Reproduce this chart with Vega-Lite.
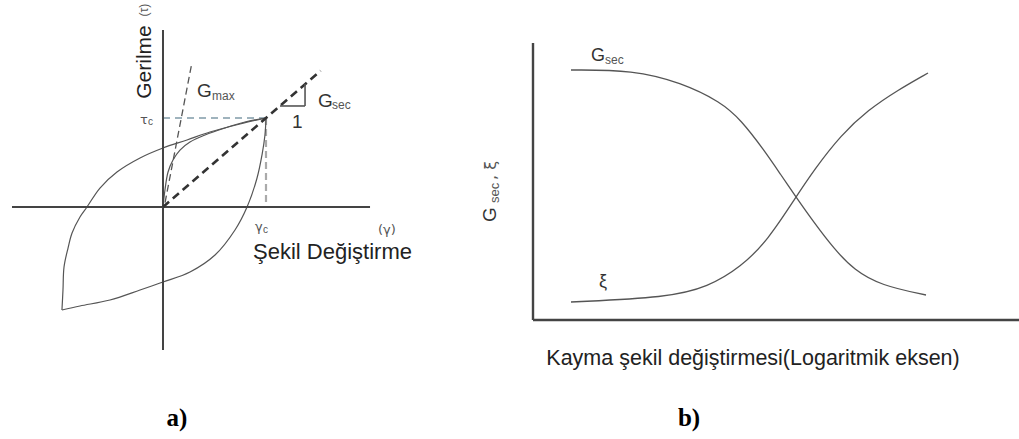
{
  "$schema": "https://vega.github.io/schema/vega-lite/v6.json",
  "padding": 0,
  "spacing": 10,
  "background": "white",
  "config": {"view": {"stroke": null}},
  "datasets": {
    "segA": [
      {"part": "axis", "g1": -1.466, "t1": 0, "g2": 2.01, "t2": 0},
      {"part": "axis", "g1": 0, "t1": 1.989, "g2": 0, "t2": -1.607},
      {"part": "tauc", "g1": 0, "t1": 1, "g2": 1, "t2": 1},
      {"part": "gammac", "g1": 1, "t1": 1, "g2": 1, "t2": 0},
      {"part": "gsec", "g1": 0, "t1": 0, "g2": 1.53, "t2": 1.53},
      {"part": "gmax", "g1": 0.02, "t1": 0.05, "g2": 0.282, "t2": 1.629},
      {"part": "tri", "g1": 1.136, "t1": 1.135, "g2": 1.379, "t2": 1.135},
      {"part": "tri", "g1": 1.379, "t1": 1.135, "g2": 1.379, "t2": 1.382}
    ],
    "loopA": [
      {"curve": "backbone", "seq": 1, "g": 0, "t": 0},
      {"curve": "backbone", "seq": 2, "g": 0.019, "t": 0.191},
      {"curve": "backbone", "seq": 3, "g": 0.049, "t": 0.393},
      {"curve": "backbone", "seq": 4, "g": 0.097, "t": 0.528},
      {"curve": "backbone", "seq": 5, "g": 0.165, "t": 0.64},
      {"curve": "backbone", "seq": 6, "g": 0.262, "t": 0.73},
      {"curve": "backbone", "seq": 7, "g": 0.408, "t": 0.809},
      {"curve": "backbone", "seq": 8, "g": 0.602, "t": 0.888},
      {"curve": "backbone", "seq": 9, "g": 0.796, "t": 0.955},
      {"curve": "backbone", "seq": 10, "g": 1, "t": 1},
      {"curve": "load", "seq": 1, "g": -0.981, "t": -1.157},
      {"curve": "load", "seq": 2, "g": -0.971, "t": -0.933},
      {"curve": "load", "seq": 3, "g": -0.961, "t": -0.674},
      {"curve": "load", "seq": 4, "g": -0.922, "t": -0.461},
      {"curve": "load", "seq": 5, "g": -0.883, "t": -0.292},
      {"curve": "load", "seq": 6, "g": -0.806, "t": -0.112},
      {"curve": "load", "seq": 7, "g": -0.738, "t": 0},
      {"curve": "load", "seq": 8, "g": -0.612, "t": 0.213},
      {"curve": "load", "seq": 9, "g": -0.447, "t": 0.393},
      {"curve": "load", "seq": 10, "g": -0.223, "t": 0.551},
      {"curve": "load", "seq": 11, "g": 0, "t": 0.663},
      {"curve": "load", "seq": 12, "g": 0.233, "t": 0.753},
      {"curve": "load", "seq": 13, "g": 0.456, "t": 0.843},
      {"curve": "load", "seq": 14, "g": 0.748, "t": 0.933},
      {"curve": "load", "seq": 15, "g": 1, "t": 1},
      {"curve": "unload", "seq": 1, "g": 1, "t": 1},
      {"curve": "unload", "seq": 2, "g": 0.99, "t": 0.809},
      {"curve": "unload", "seq": 3, "g": 0.961, "t": 0.584},
      {"curve": "unload", "seq": 4, "g": 0.913, "t": 0.326},
      {"curve": "unload", "seq": 5, "g": 0.816, "t": 0},
      {"curve": "unload", "seq": 6, "g": 0.699, "t": -0.258},
      {"curve": "unload", "seq": 7, "g": 0.505, "t": -0.539},
      {"curve": "unload", "seq": 8, "g": 0.262, "t": -0.73},
      {"curve": "unload", "seq": 9, "g": 0, "t": -0.843},
      {"curve": "unload", "seq": 10, "g": -0.223, "t": -0.933},
      {"curve": "unload", "seq": 11, "g": -0.515, "t": -1.045},
      {"curve": "unload", "seq": 12, "g": -0.806, "t": -1.112},
      {"curve": "unload", "seq": 13, "g": -0.981, "t": -1.157}
    ],
    "textA": [
      {"role": "rot", "label": "Gerilme", "g": -0.175, "t": 1.629},
      {"role": "rotsmall", "label": "(τ)", "g": -0.184, "t": 2.213},
      {"role": "big", "label": "G", "g": 0.33, "t": 1.236},
      {"role": "sub", "label": "max", "g": 0.476, "t": 1.202},
      {"role": "big", "label": "G", "g": 1.505, "t": 1.124},
      {"role": "sub", "label": "sec", "g": 1.641, "t": 1.101},
      {"role": "big", "label": "1", "g": 1.252, "t": 0.888},
      {"role": "greek", "label": "τ", "g": -0.223, "t": 0.933},
      {"role": "subsm", "label": "c", "g": -0.146, "t": 0.921},
      {"role": "greek", "label": "γ", "g": 0.893, "t": -0.27},
      {"role": "subsm", "label": "c", "g": 0.971, "t": -0.292},
      {"role": "greek", "label": "(γ)", "g": 2.087, "t": -0.303},
      {"role": "title", "label": "Şekil Değiştirme", "g": 0.874, "t": -0.584},
      {"role": "panel", "label": "a)", "g": 0.136, "t": -2.461}
    ],
    "segB": [
      {"x1": -4, "y1": 0, "x2": -4, "y2": 1.108},
      {"x1": -4, "y1": 0, "x2": 0.87, "y2": 0}
    ],
    "curvesB": [
      {"curve": "Gsec", "x": -3.62, "y": 1.0},
      {"curve": "Gsec", "x": -3.0, "y": 1.0},
      {"curve": "Gsec", "x": -2.52, "y": 0.95},
      {"curve": "Gsec", "x": -2.12, "y": 0.872},
      {"curve": "Gsec", "x": -1.92, "y": 0.8},
      {"curve": "Gsec", "x": -1.69, "y": 0.68},
      {"curve": "Gsec", "x": -1.52, "y": 0.58},
      {"curve": "Gsec", "x": -1.37, "y": 0.492},
      {"curve": "Gsec", "x": -1.19, "y": 0.39},
      {"curve": "Gsec", "x": -0.99, "y": 0.285},
      {"curve": "Gsec", "x": -0.79, "y": 0.2},
      {"curve": "Gsec", "x": -0.52, "y": 0.138},
      {"curve": "Gsec", "x": -0.07, "y": 0.1},
      {"curve": "xi", "x": -3.62, "y": 0.072},
      {"curve": "xi", "x": -2.65, "y": 0.09},
      {"curve": "xi", "x": -2.25, "y": 0.132},
      {"curve": "xi", "x": -1.92, "y": 0.212},
      {"curve": "xi", "x": -1.65, "y": 0.32},
      {"curve": "xi", "x": -1.37, "y": 0.492},
      {"curve": "xi", "x": -1.19, "y": 0.6},
      {"curve": "xi", "x": -0.92, "y": 0.74},
      {"curve": "xi", "x": -0.65, "y": 0.84},
      {"curve": "xi", "x": -0.35, "y": 0.92},
      {"curve": "xi", "x": -0.05, "y": 0.988}
    ],
    "textB": [
      {"role": "big", "label": "G", "x": -3.42, "y": 1.036},
      {"role": "sub", "label": "sec", "x": -3.28, "y": 1.024},
      {"role": "big", "label": "ξ", "x": -3.34, "y": 0.132},
      {"role": "rotbig", "label": "G", "x": -4.37, "y": 0.392},
      {"role": "rotsub", "label": "sec", "x": -4.34, "y": 0.468},
      {"role": "rotxi", "label": ", ξ", "x": -4.37, "y": 0.56},
      {"role": "xtitle", "label": "Kayma şekil değiştirmesi(Logaritmik eksen)", "x": -1.8, "y": -0.18},
      {"role": "panel", "label": "b)", "x": -2.44, "y": -0.424}
    ]
  },
  "hconcat": [
    {
      "width": 470,
      "height": 439,
      "layer": [
        {
          "data": {"name": "segA"},
          "transform": [{"filter": "datum.part === 'tauc'"}],
          "mark": {"type": "rule", "color": "#9fb3bd", "strokeWidth": 2, "strokeDash": [7, 5]},
          "encoding": {
            "x": {"field": "g1", "type": "quantitative", "axis": null, "scale": {"domain": [-1.5825, 2.9806], "nice": false, "zero": false}},
            "y": {"field": "t1", "type": "quantitative", "axis": null, "scale": {"domain": [-2.6067, 2.3258], "nice": false, "zero": false}},
            "x2": {"field": "g2"},
            "y2": {"field": "t2"}
          }
        },
        {
          "data": {"name": "segA"},
          "transform": [{"filter": "datum.part === 'gammac'"}],
          "mark": {"type": "rule", "color": "#aaaaaa", "strokeWidth": 2.2, "strokeDash": [7, 4]},
          "encoding": {
            "x": {"field": "g1", "type": "quantitative"},
            "y": {"field": "t1", "type": "quantitative"},
            "x2": {"field": "g2"},
            "y2": {"field": "t2"}
          }
        },
        {
          "data": {"name": "loopA"},
          "mark": {"type": "line", "color": "#555555", "strokeWidth": 1.2, "interpolate": "catmull-rom"},
          "encoding": {
            "x": {"field": "g", "type": "quantitative"},
            "y": {"field": "t", "type": "quantitative"},
            "detail": {"field": "curve"},
            "order": {"field": "seq", "type": "quantitative"}
          }
        },
        {
          "data": {"name": "segA"},
          "transform": [{"filter": "datum.part === 'axis'"}],
          "mark": {"type": "rule", "color": "#444444", "strokeWidth": 2},
          "encoding": {
            "x": {"field": "g1", "type": "quantitative"},
            "y": {"field": "t1", "type": "quantitative"},
            "x2": {"field": "g2"},
            "y2": {"field": "t2"}
          }
        },
        {
          "data": {"name": "segA"},
          "transform": [{"filter": "datum.part === 'gsec'"}],
          "mark": {"type": "rule", "color": "#333333", "strokeWidth": 2.6, "strokeDash": [8, 5]},
          "encoding": {
            "x": {"field": "g1", "type": "quantitative"},
            "y": {"field": "t1", "type": "quantitative"},
            "x2": {"field": "g2"},
            "y2": {"field": "t2"}
          }
        },
        {
          "data": {"name": "segA"},
          "transform": [{"filter": "datum.part === 'gmax'"}],
          "mark": {"type": "rule", "color": "#555555", "strokeWidth": 1.3, "strokeDash": [7, 4]},
          "encoding": {
            "x": {"field": "g1", "type": "quantitative"},
            "y": {"field": "t1", "type": "quantitative"},
            "x2": {"field": "g2"},
            "y2": {"field": "t2"}
          }
        },
        {
          "data": {"name": "segA"},
          "transform": [{"filter": "datum.part === 'tri'"}],
          "mark": {"type": "rule", "color": "#555555", "strokeWidth": 1.6},
          "encoding": {
            "x": {"field": "g1", "type": "quantitative"},
            "y": {"field": "t1", "type": "quantitative"},
            "x2": {"field": "g2"},
            "y2": {"field": "t2"}
          }
        },
        {
          "data": {"name": "textA"},
          "transform": [{"filter": "datum.role === 'rot'"}],
          "mark": {"type": "text", "angle": 270, "align": "center", "baseline": "middle", "font": "Liberation Sans", "fontSize": 21, "color": "#222222"},
          "encoding": {"x": {"field": "g", "type": "quantitative"}, "y": {"field": "t", "type": "quantitative"}, "text": {"field": "label"}}
        },
        {
          "data": {"name": "textA"},
          "transform": [{"filter": "datum.role === 'rotsmall'"}],
          "mark": {"type": "text", "angle": 270, "align": "center", "baseline": "middle", "font": "Liberation Sans", "fontSize": 12, "color": "#555555"},
          "encoding": {"x": {"field": "g", "type": "quantitative"}, "y": {"field": "t", "type": "quantitative"}, "text": {"field": "label"}}
        },
        {
          "data": {"name": "textA"},
          "transform": [{"filter": "datum.role === 'big'"}],
          "mark": {"type": "text", "align": "left", "baseline": "alphabetic", "font": "Liberation Sans", "fontSize": 19, "color": "#333333"},
          "encoding": {"x": {"field": "g", "type": "quantitative"}, "y": {"field": "t", "type": "quantitative"}, "text": {"field": "label"}}
        },
        {
          "data": {"name": "textA"},
          "transform": [{"filter": "datum.role === 'sub'"}],
          "mark": {"type": "text", "align": "left", "baseline": "alphabetic", "font": "Liberation Sans", "fontSize": 12, "color": "#555555"},
          "encoding": {"x": {"field": "g", "type": "quantitative"}, "y": {"field": "t", "type": "quantitative"}, "text": {"field": "label"}}
        },
        {
          "data": {"name": "textA"},
          "transform": [{"filter": "datum.role === 'greek'"}],
          "mark": {"type": "text", "align": "left", "baseline": "alphabetic", "font": "DejaVu Sans", "fontSize": 13, "color": "#555555"},
          "encoding": {"x": {"field": "g", "type": "quantitative"}, "y": {"field": "t", "type": "quantitative"}, "text": {"field": "label"}}
        },
        {
          "data": {"name": "textA"},
          "transform": [{"filter": "datum.role === 'subsm'"}],
          "mark": {"type": "text", "align": "left", "baseline": "alphabetic", "font": "Liberation Sans", "fontSize": 10, "color": "#555555"},
          "encoding": {"x": {"field": "g", "type": "quantitative"}, "y": {"field": "t", "type": "quantitative"}, "text": {"field": "label"}}
        },
        {
          "data": {"name": "textA"},
          "transform": [{"filter": "datum.role === 'title'"}],
          "mark": {"type": "text", "align": "left", "baseline": "alphabetic", "font": "Liberation Sans", "fontSize": 22, "color": "#222222"},
          "encoding": {"x": {"field": "g", "type": "quantitative"}, "y": {"field": "t", "type": "quantitative"}, "text": {"field": "label"}}
        },
        {
          "data": {"name": "textA"},
          "transform": [{"filter": "datum.role === 'panel'"}],
          "mark": {"type": "text", "align": "center", "baseline": "alphabetic", "font": "Liberation Serif", "fontWeight": "bold", "fontSize": 25, "color": "#000000"},
          "encoding": {"x": {"field": "g", "type": "quantitative"}, "y": {"field": "t", "type": "quantitative"}, "text": {"field": "label"}}
        }
      ]
    },
    {
      "width": 539,
      "height": 439,
      "layer": [
        {
          "data": {"name": "curvesB"},
          "mark": {"type": "line", "color": "#555555", "strokeWidth": 1.3, "interpolate": "basis"},
          "encoding": {
            "x": {"field": "x", "type": "quantitative", "axis": null, "scale": {"domain": [-4.52, 0.87], "nice": false, "zero": false}},
            "y": {"field": "y", "type": "quantitative", "axis": null, "scale": {"domain": [-0.476, 1.28], "nice": false, "zero": false}},
            "detail": {"field": "curve"}
          }
        },
        {
          "data": {"name": "segB"},
          "mark": {"type": "rule", "color": "#444444", "strokeWidth": 2.4},
          "encoding": {
            "x": {"field": "x1", "type": "quantitative"},
            "y": {"field": "y1", "type": "quantitative"},
            "x2": {"field": "x2"},
            "y2": {"field": "y2"}
          }
        },
        {
          "data": {"name": "textB"},
          "transform": [{"filter": "datum.role === 'big'"}],
          "mark": {"type": "text", "align": "left", "baseline": "alphabetic", "font": "Liberation Sans", "fontSize": 18, "color": "#333333"},
          "encoding": {"x": {"field": "x", "type": "quantitative"}, "y": {"field": "y", "type": "quantitative"}, "text": {"field": "label"}}
        },
        {
          "data": {"name": "textB"},
          "transform": [{"filter": "datum.role === 'sub'"}],
          "mark": {"type": "text", "align": "left", "baseline": "alphabetic", "font": "Liberation Sans", "fontSize": 12, "color": "#555555"},
          "encoding": {"x": {"field": "x", "type": "quantitative"}, "y": {"field": "y", "type": "quantitative"}, "text": {"field": "label"}}
        },
        {
          "data": {"name": "textB"},
          "transform": [{"filter": "datum.role === 'rotbig'"}],
          "mark": {"type": "text", "angle": 270, "align": "left", "baseline": "alphabetic", "font": "Liberation Sans", "fontSize": 19, "color": "#333333"},
          "encoding": {"x": {"field": "x", "type": "quantitative"}, "y": {"field": "y", "type": "quantitative"}, "text": {"field": "label"}}
        },
        {
          "data": {"name": "textB"},
          "transform": [{"filter": "datum.role === 'rotsub'"}],
          "mark": {"type": "text", "angle": 270, "align": "left", "baseline": "alphabetic", "font": "Liberation Sans", "fontSize": 13, "color": "#555555"},
          "encoding": {"x": {"field": "x", "type": "quantitative"}, "y": {"field": "y", "type": "quantitative"}, "text": {"field": "label"}}
        },
        {
          "data": {"name": "textB"},
          "transform": [{"filter": "datum.role === 'rotxi'"}],
          "mark": {"type": "text", "angle": 270, "align": "left", "baseline": "alphabetic", "font": "DejaVu Sans", "fontSize": 16, "color": "#555555"},
          "encoding": {"x": {"field": "x", "type": "quantitative"}, "y": {"field": "y", "type": "quantitative"}, "text": {"field": "label"}}
        },
        {
          "data": {"name": "textB"},
          "transform": [{"filter": "datum.role === 'xtitle'"}],
          "mark": {"type": "text", "align": "center", "baseline": "alphabetic", "font": "Liberation Sans", "fontSize": 21.5, "color": "#222222"},
          "encoding": {"x": {"field": "x", "type": "quantitative"}, "y": {"field": "y", "type": "quantitative"}, "text": {"field": "label"}}
        },
        {
          "data": {"name": "textB"},
          "transform": [{"filter": "datum.role === 'panel'"}],
          "mark": {"type": "text", "align": "center", "baseline": "alphabetic", "font": "Liberation Serif", "fontWeight": "bold", "fontSize": 25, "color": "#000000"},
          "encoding": {"x": {"field": "x", "type": "quantitative"}, "y": {"field": "y", "type": "quantitative"}, "text": {"field": "label"}}
        }
      ]
    }
  ]
}
